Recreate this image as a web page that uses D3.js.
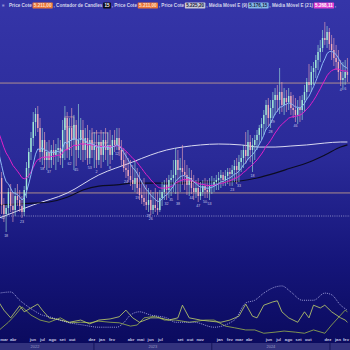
<!DOCTYPE html>
<html>
<head>
<meta charset="utf-8">
<script src="https://cdn.jsdelivr.net/npm/d3@7"></script>
<style>
html, body { margin: 0; padding: 0; background: #0a0a5e; overflow: hidden; }
svg { display: block; font-family: "Liberation Sans", Arial, sans-serif; }
</style>
</head>
<body>
<script>
// weekly candles, the first one is the week of 14 mar 2022
const firstWeek = new Date(2022, 2, 14);
const firstOpen = 5297;
const closes = [5059,4830,4753,4804,4940,4821,4787,4906,4872,4821,4770,4957,5144,5280,5399,5535,5603,5484,5280,5382,
  5212,5280,5212,5297,5255,5297,5314,5229,5467,5569,5297,5484,5382,5510,5297,5382,5467,5297,5399,5229,
  5382,5297,5340,5212,5365,5255,5382,5297,5340,5255,5382,5340,5399,5297,5212,5144,5127,5076,5042,5008,
  5059,4974,4915,4889,4855,4830,4872,4787,4830,4804,4787,4889,4940,5000,4957,5042,5059,5085,5212,5127,
  5144,5110,5085,5000,5059,4974,4940,4974,4906,4940,4991,4957,4940,4991,5000,5025,5042,5059,5085,5042,
  5076,5110,5093,5127,5161,5127,5195,5229,5297,5246,5365,5297,5340,5382,5425,5484,5518,5595,5680,5569,
  5654,5722,5765,5722,5790,5680,5739,5705,5756,5654,5637,5595,5654,5637,5722,5790,5875,5850,5960,5994,
  6062,6130,6164,6249,6232,6300,6198,6147,6079,6045,5960,5892,5909,5960,5935];
const highs = [5382,5110,4889,4830,4974,5008,4940,4974,5008,4957,4906,4991,5195,5314,5450,5620,5654,5671,5569,5484,
  5450,5365,5382,5340,5382,5348,5399,5382,5552,5671,5620,5569,5654,5595,5552,5688,5569,5552,5484,5510,
  5467,5484,5450,5467,5425,5467,5450,5484,5450,5467,5425,5467,5484,5484,5382,5314,5280,5229,5212,5170,
  5212,5144,5110,5042,5059,5000,4974,4957,4940,4974,4940,4957,5025,5042,5059,5085,5127,5212,5314,5297,
  5229,5340,5212,5170,5144,5127,5085,5042,5059,5025,5042,5059,5042,5059,5076,5059,5085,5110,5127,5110,
  5127,5144,5144,5170,5212,5229,5255,5297,5340,5450,5467,5425,5399,5425,5467,5510,5569,5637,5722,5739,
  5722,5790,5824,5850,5994,5875,5824,5807,5824,5790,5765,5739,5722,5756,5765,5850,5909,6028,6011,6045,
  6105,6190,6232,6317,6385,6351,6334,6275,6249,6190,6147,6062,6045,6062,6079];
const lows = [4872,4753,4685,4600,4753,4770,4685,4736,4821,4770,4719,4736,4889,5059,5212,5331,5416,5450,5195,5170,
  5144,5127,5144,5144,5170,5127,5195,5170,5144,5212,5229,5212,5246,5127,5161,5229,5212,5195,5212,5170,
  5178,5229,5144,5144,5170,5144,5195,5212,5161,5178,5212,5280,5297,5246,5161,5110,5059,5025,4991,4957,
  4940,4923,4872,4838,4821,4787,4770,4745,4753,4770,4745,4770,4821,4872,4872,4889,4906,4940,4923,4872,
  4940,5000,4957,4915,4906,4923,4872,4889,4855,4872,4906,4889,4889,4872,4923,4940,4957,4957,4974,4991,
  4991,5008,4991,4991,5025,5008,5025,5110,5144,5178,5212,5195,5110,5212,5297,5340,5382,5425,5467,5501,
  5484,5569,5595,5620,5603,5620,5595,5620,5637,5595,5569,5535,5518,5535,5552,5620,5722,5790,5790,5850,
  5909,5977,6045,6130,6190,6164,6147,6062,6011,5977,5892,5841,5807,5850,5875];

// moving averages as shown on the chart
const ema9Seed = 5297;
const ema21Seed = 5467;
const whiteIdx = [0,15,30,44,59,67,74,81,89,97,107,115,122,129,136,144,151,154];
const whiteMA = [4719,4830,4931,5085,5195,5255,5297,5322,5340,5348,5340,5322,5322,5331,5340,5356,5365,5365];
const blackIdx = [0,8,15,22,30,37,44,52,59,67,78,89,100,114,122,129,136,144,151,154];
const blackMA = [4830,4838,4846,4855,4895,4957,4990,5000,5016,5016,5016,5025,5025,5059,5100,5144,5186,5254,5322,5340];

// price levels
const levelLines = [5866, 4932];
const dottedLevel = 4736;
const boxFrom = [29, 41, 60, 83, 123, 146];
const boxTo = [33, 48, 66, 89, 130, 150];
const boxTop = [5578, 5442, 5187, 5153, 5790, 6334];
const boxBottom = [5493, 5357, 5187, 5153, 5790, 6334];

// candle counter labels
const countIdx = [1,3,10,19,22,31,34,40,43,49,52,56,61,66,67,74,76,79,85,88,91,93,103,106,112,120,121,131,151,153];
const countText = ["12","18","23","58","37","62","45","53","2","8","12","24","19","28","26","32","35","38","44","47","50","53","23","33","18","28","29","46","4","6"];

// lower panel
const dotIdx = [0,5,9,15,19,22,30,37,44,52,55,58,62,67,74,78,86,95,104,109,113,117,122,125,129,134,139,144,147,151,154];
const dotVal = [78,80,65,47,38,35,25,20,16,16,24,38,44,38,33,25,25,16,29,60,65,78,89,91,80,65,65,78,75,56,47];
const lineAIdx = [0,2,5,7,9,11,14,17,19,22,27,31,36,40,44,49,53,56,59,62,67,71,75,79,81,84,89,93,98,102,106,109,112,114,117,121,123,125,128,132,135,137,139,142,144,147,151,153,154];
const lineAVal = [60,47,33,44,55,44,51,58,47,33,29,25,29,22,29,31,35,47,33,25,33,33,29,33,56,33,29,27,25,29,36,58,36,33,56,62,64,44,33,25,44,33,56,51,56,44,33,29,25];
const lineBIdx = [0,4,7,10,14,18,22,27,31,36,40,44,49,53,58,61,64,69,73,78,84,91,95,100,104,109,113,117,122,126,131,135,139,144,147,151,153,154];
const lineBVal = [11,25,38,53,38,29,25,33,24,25,24,27,25,24,18,20,33,36,29,29,25,29,29,18,15,11,11,5,7,9,7,5,11,5,20,38,47,44];

// axis labels
const monthNames = ["jan","fev","mar","abr","mai","jun","jul","ago","set","out","nov","dez"];
const tickDates = ["2022-03-01","2022-04-01","2022-06-01","2022-07-01","2022-08-01","2022-09-01","2022-10-01","2022-12-01",
  "2023-01-01","2023-02-01","2023-04-01","2023-05-01","2023-06-01","2023-07-01","2023-09-01","2023-10-01","2023-11-01",
  "2024-01-01","2024-02-01","2024-03-01","2024-04-01","2024-06-01","2024-07-01","2024-08-01","2024-09-01","2024-10-01","2024-12-01",
  "2025-01-01","2025-02-01"];
const yearBreaks = [2023, 2024, 2025];
const yearLabels = [2022, 2023, 2024];

const headerTexts = ["Price Cote", "5.211,00", ", Contador de Candles", "15", ", Price Cote", "5.211,00",
  ", Price Cote", "5.225,20", ", Média Móvel E (9)", "5.176,15", ", Média Móvel E (21)", "5.268,11", ","];
const headerBoxes = [null, ["#e8743a", "#ffe0c8"], null, ["#0c0c14", "#ffffff"], null, ["#e8743a", "#ffe0c8"],
  null, ["#c8c8d4", "#202040"], null, ["#86b8e6", "#102040"], null, ["#e040d0", "#ffffff"], null];

const W = 350, H = 350;
const parse = d3.timeParse("%Y-%m-%d");

const svg = d3.select("body").append("svg")
    .attr("width", W)
    .attr("height", H);

const grad = svg.append("defs").append("linearGradient")
    .attr("id", "bg")
    .attr("x1", 0).attr("y1", 0).attr("x2", 0).attr("y2", 1);
grad.append("stop").attr("offset", "0%").attr("stop-color", "#3535a8");
grad.append("stop").attr("offset", "45%").attr("stop-color", "#2a2a98");
grad.append("stop").attr("offset", "75%").attr("stop-color", "#15157a");
grad.append("stop").attr("offset", "100%").attr("stop-color", "#0a0a5c");
svg.append("rect").attr("width", W).attr("height", H).attr("fill", "url(#bg)");

const x = d3.scaleTime()
    .domain([new Date(2022, 2, 16), new Date(2025, 2, 4)])
    .range([0, W]);
const y = d3.scaleLinear().domain([4362, 6572]).range([260, 0]);
const yLow = d3.scaleLinear().domain([0, 100]).range([336, 281]);

const candles = closes.map((c, i) => ({
    date: d3.timeDay.offset(firstWeek, 7 * i),
    open: i ? closes[i - 1] : firstOpen,
    high: highs[i], low: lows[i], close: c
}));
const xi = i => x(candles[i].date);

function ema(vals, n, seed) {
    const k = 2 / (n + 1);
    let e = seed;
    return vals.map(v => e = e + k * (v - e));
}

// level lines
svg.selectAll(".level").data(levelLines).enter().append("line")
    .attr("x1", 0).attr("x2", W)
    .attr("y1", d => y(d)).attr("y2", d => y(d))
    .attr("stroke", "#d2a88c").attr("stroke-width", 0.8);
svg.append("line")
    .attr("x1", 0).attr("x2", W)
    .attr("y1", y(dottedLevel)).attr("y2", y(dottedLevel))
    .attr("stroke", "#b4b4e0").attr("stroke-width", 0.7)
    .attr("stroke-dasharray", "1,1.2");

// long averages
const line = d3.line().curve(d3.curveMonotoneX);
svg.append("path")
    .attr("d", line(whiteIdx.map((d, k) => [xi(d), y(whiteMA[k])])))
    .attr("fill", "none").attr("stroke", "#d8d8f0").attr("stroke-width", 1);
svg.append("path")
    .attr("d", line(blackIdx.map((d, k) => [xi(d), y(blackMA[k])])))
    .attr("fill", "none").attr("stroke", "#0c0c22").attr("stroke-width", 1.2);

// boxes
boxFrom.forEach((b, k) => {
    svg.append("rect")
        .attr("x", xi(b)).attr("width", xi(boxTo[k]) - xi(b))
        .attr("y", y(boxTop[k])).attr("height", y(boxBottom[k]) - y(boxTop[k]))
        .attr("fill", "none").attr("stroke", "#e0a4a8").attr("stroke-width", 0.6);
});

// candles
const up = d => d.close >= d.open;
const cg = svg.append("g");
cg.selectAll(".wick").data(candles).enter().append("line")
    .attr("x1", d => x(d.date)).attr("x2", d => x(d.date))
    .attr("y1", d => y(d.high)).attr("y2", d => y(d.low))
    .attr("stroke", d => up(d) ? "#a4ecd8" : "#f2aabb")
    .attr("stroke-width", 0.6);
cg.selectAll(".body").data(candles).enter().append("rect")
    .attr("x", d => x(d.date) - 0.7).attr("width", 1.4)
    .attr("y", d => y(Math.max(d.open, d.close)))
    .attr("height", d => Math.max(0.6, Math.abs(y(d.open) - y(d.close))))
    .attr("fill", d => up(d) ? "#a4ecd8" : "#f2aabb");

// emas
svg.append("path")
    .attr("d", d3.line()(ema(closes, 21, ema21Seed).map((v, i) => [xi(i), y(v)])))
    .attr("fill", "none").attr("stroke", "#e020c8").attr("stroke-width", 1);
svg.append("path")
    .attr("d", d3.line()(ema(closes, 9, ema9Seed).map((v, i) => [xi(i), y(v)])))
    .attr("fill", "none").attr("stroke", "#8cb8f4").attr("stroke-width", 1);

// counter labels
svg.selectAll(".cnt").data(countIdx).enter().append("text")
    .attr("x", d => Math.max(3, xi(d))).attr("y", d => y(lows[d]) + 5)
    .attr("text-anchor", "middle")
    .attr("font-size", 3.6).attr("fill", "#c8c8e8")
    .text((d, k) => countText[k]);

// lower panel
svg.append("path")
    .attr("d", d3.line()(lineBIdx.map((d, k) => [xi(d), yLow(lineBVal[k])])))
    .attr("fill", "none").attr("stroke", "#9cb44c").attr("stroke-width", 0.8);
svg.append("path")
    .attr("d", d3.line()(lineAIdx.map((d, k) => [xi(d), yLow(lineAVal[k])])))
    .attr("fill", "none").attr("stroke", "#c4d66a").attr("stroke-width", 0.8);
svg.append("path")
    .attr("d", line(dotIdx.map((d, k) => [xi(d), yLow(dotVal[k])])))
    .attr("fill", "none").attr("stroke", "#c0c0f4").attr("stroke-width", 0.8)
    .attr("stroke-dasharray", "1,1.1");

// month labels
svg.selectAll(".month").data(tickDates).enter().append("text")
    .attr("x", d => Math.min(W - 4, Math.max(4, x(parse(d)) + 8))).attr("y", 341)
    .attr("text-anchor", "middle")
    .attr("font-size", 4.2).attr("font-weight", "bold").attr("fill", "#c8c8e4")
    .text(d => monthNames[parse(d).getMonth()]);

// year band
svg.append("rect").attr("x", 0).attr("y", 343).attr("width", W).attr("height", 7).attr("fill", "#32327e");
svg.selectAll(".ysep").data(yearBreaks).enter().append("line")
    .attr("x1", d => x(new Date(d, 0, 1))).attr("x2", d => x(new Date(d, 0, 1)))
    .attr("y1", 343).attr("y2", 350)
    .attr("stroke", "#14145a").attr("stroke-width", 1);
svg.selectAll(".year").data(yearLabels).enter().append("text")
    .attr("x", d => (x(new Date(d, 0, 1)) + x(new Date(d + 1, 0, 1))) / 2)
    .attr("y", 348.3)
    .attr("text-anchor", "middle")
    .attr("font-size", 4).attr("fill", "#9a9ac8")
    .text(d => d);

// header
const hg = svg.append("g").attr("font-size", 4.6).attr("font-weight", "bold");
hg.append("text").attr("x", 2).attr("y", 7).attr("fill", "#d0d0f0").text("≡");
let hx = 9;
headerTexts.forEach((t, k) => {
    const box = headerBoxes[k];
    const pad = box ? 1.3 : 0;
    const txt = hg.append("text").attr("y", 7).text(t)
        .attr("fill", box ? box[1] : "#d4d4ec");
    const w = txt.node().getComputedTextLength();
    if (box) {
        hg.insert("rect", "text")
            .attr("x", hx).attr("y", 2.6).attr("width", w + 2 * pad).attr("height", 5.8)
            .attr("rx", 0.6).attr("fill", box[0]);
    }
    txt.attr("x", hx + pad);
    hx += w + 2 * pad + 0.8;
});
</script>
</body>
</html>
